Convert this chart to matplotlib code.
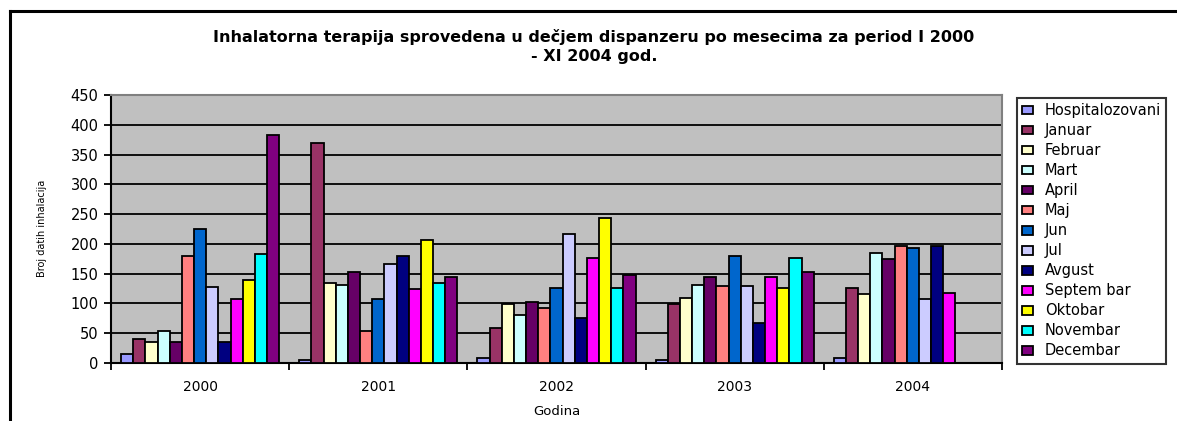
import numpy as np
import matplotlib
matplotlib.use("Agg")
import matplotlib.pyplot as plt
from matplotlib.lines import Line2D

years = ["2000", "2001", "2002", "2003", "2004"]
series_names = ["Hospitalozovani", "Januar", "Februar", "Mart", "April", "Maj", "Jun",
                "Jul", "Avgust", "Septem bar", "Oktobar", "Novembar", "Decembar"]
series_colors = ["#9999FF", "#993366", "#FFFFCC", "#CCFFFF", "#660066", "#FF8080", "#0066CC",
                 "#CCCCFF", "#000080", "#FF00FF", "#FFFF00", "#00FFFF", "#800080"]

# values per series, one per year (None = no data)
hospitalozovani = [15, 5, 8, 5, 8]
januar = [41, 369, 58, 99, 126]
februar = [36, 135, 99, 109, 116]
mart = [54, 131, 80, 131, 184]
april = [36, 153, 103, 144, 175]
maj = [180, 54, 93, 130, 197]
jun = [225, 108, 126, 179, 193]
jul = [127, 166, 216, 130, 107]
avgust = [36, 180, 76, 67, 197]
septembar = [107, 125, 176, 144, 117]
oktobar = [140, 207, 243, 126, None]
novembar = [183, 134, 126, 176, None]
decembar = [383, 144, 148, 153, None]

series_values = [hospitalozovani, januar, februar, mart, april, maj, jun,
                 jul, avgust, septembar, oktobar, novembar, decembar]

W, H = 1177, 421
fig = plt.figure(figsize=(W / 100, H / 100), dpi=100)
ax = fig.add_axes([111 / W, 1 - 363 / H, (1002 - 111) / W, (363 - 95) / H])
ax.set_facecolor("#C0C0C0")

font = "DejaVu Sans"
x = np.arange(len(years))
bw = 12.15 / 178
n = len(series_names)
for j, (name, vals, col) in enumerate(zip(series_names, series_values, series_colors)):
    v = np.array([np.nan if a is None else a for a in vals], dtype=float)
    ax.bar(x + (j - (n - 1) / 2) * bw, v, width=bw, color=col, edgecolor="black",
           linewidth=1.3, label=name, zorder=3)

ax.set_ylim(0, 450)
ax.set_xlim(-0.5, len(years) - 0.5)
ax.set_yticks(np.arange(0, 451, 50))
ax.yaxis.grid(True, color="black", linewidth=1.3, zorder=1)
ax.set_axisbelow(True)

ax.set_xticks(np.arange(-0.5, len(years), 1.0))
ax.set_xticklabels([])
ax.set_xticks(x, minor=True)
ax.set_xticklabels(years, minor=True, fontsize=10, family=font)
ax.tick_params(axis="x", which="major", direction="out", length=5, width=1.3)
ax.tick_params(axis="x", which="minor", length=0, pad=12)
ax.tick_params(axis="y", direction="out", length=5, width=1.3, labelsize=10.5, pad=4)
for lab in ax.get_yticklabels():
    lab.set_family(font)

for s in ["left", "bottom"]:
    ax.spines[s].set_color("black")
    ax.spines[s].set_linewidth(1.5)
for s in ["top", "right"]:
    ax.spines[s].set_color("#808080")
    ax.spines[s].set_linewidth(1.5)

ax.set_xlabel("Godina", fontsize=9.5, family=font, labelpad=8)
fig.text(42 / W, 1 - 228 / H, "Broj datih inhalacija", rotation=90, ha="center",
         va="center", fontsize=7, family=font)

fig.text(594 / W, 1 - 37 / H,
         "Inhalatorna terapija sprovedena u dečjem dispanzeru po mesecima za period I 2000",
         ha="center", va="center", fontsize=11.5, fontweight="bold", family=font)
fig.text(594 / W, 1 - 57 / H, "- XI 2004 god.",
         ha="center", va="center", fontsize=11.5, fontweight="bold", family=font)

leg = ax.legend(loc="upper left", bbox_to_anchor=(1017 / W, 1 - 98 / H),
                bbox_transform=fig.transFigure, frameon=True, fancybox=False,
                prop={"family": font, "size": 10.5}, handlelength=0.75, handleheight=0.55,
                handletextpad=0.8, labelspacing=0.345, borderpad=0.35, borderaxespad=0)
leg.get_frame().set_edgecolor("black")
leg.get_frame().set_linewidth(1.5)

# outer chart frame (cropped on right and bottom)
fig.add_artist(Line2D([10 / W, 1], [1 - 11 / H, 1 - 11 / H], color="black", linewidth=2.2,
                      transform=fig.transFigure))
fig.add_artist(Line2D([10 / W, 10 / W], [0, 1 - 11 / H], color="black", linewidth=2.2,
                      transform=fig.transFigure))

fig.savefig("out.png", dpi=100)
